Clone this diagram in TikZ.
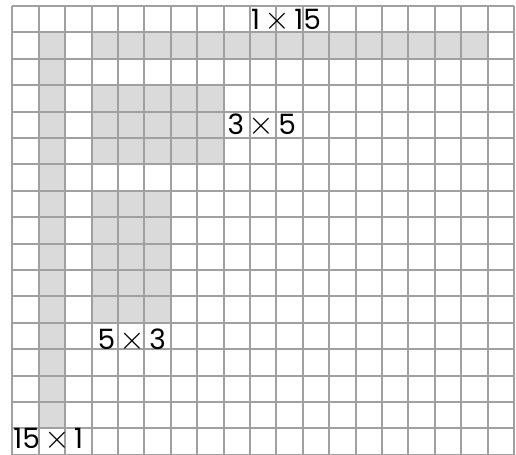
\documentclass[tikz,border=0pt]{standalone}
\usepackage{fontspec}
\setmainfont{Poppins}
\definecolor{gridgray}{HTML}{A0A0A0}
\definecolor{cellfill}{HTML}{DADADA}
\newcommand\cellblock[4]{\fill[cellfill] ({12.3+#1*26.4},{6+#2*26.4}) rectangle ({12.3+(#3+1)*26.4},{6+(#4+1)*26.4});}
\newcommand\tm{\hspace{0.15em}{\fontsize{26}{26}\selectfont$\times$}\hspace{0.15em}}
\begin{document}
\begin{tikzpicture}[x=0.75pt,y=-0.75pt,
  gridline/.style={draw=gridgray,line width=1.5pt},
  lbl/.style={inner sep=0pt,font=\fontsize{21}{21}\selectfont,text=black}]
\useasboundingbox (0,0) rectangle (516,454);
\clip (0,0) rectangle (516,454);
\cellblock{1}{1}{1}{15}
\cellblock{3}{1}{17}{1}
\cellblock{3}{3}{7}{5}
\cellblock{3}{7}{5}{11}
\foreach \i in {0,...,19}
  \draw[gridline] ({12.3+\i*26.4},6) -- ({12.3+\i*26.4},{6+17*26.4});
\foreach \j in {0,...,17}
  \draw[gridline] (12.3,{6+\j*26.4}) -- ({12.3+19*26.4},{6+\j*26.4});
\node[lbl] (l115) at (286,20.5) {1\tm15};
\node[lbl] (l35) at (261.7,125.3) {3\tm5};
\node[lbl] (l53) at (131.7,340.8) {5\tm3};
\node[lbl] (l151) at (48.3,439.5) {15\tm1};
\end{tikzpicture}
\end{document}
